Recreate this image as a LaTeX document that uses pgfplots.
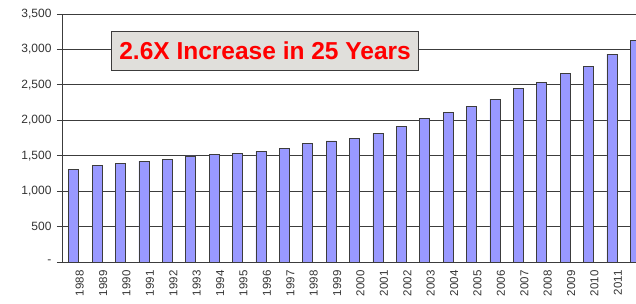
\documentclass[border=0pt]{standalone}
\usepackage{pgfplots}
\pgfplotsset{compat=1.18}
\usepackage{fontspec}
\setmainfont{Liberation Sans}
\definecolor{barfill}{HTML}{9999FF}
\definecolor{gridc}{HTML}{3C3C3C}
\definecolor{labc}{HTML}{333333}
\definecolor{boxfill}{HTML}{E0DFDB}
\begin{document}
\begin{tikzpicture}
\useasboundingbox (-62bp,-42bp) rectangle (574bp,262bp);
\begin{scope}
\clip (-62bp,-42bp) rectangle (574bp,262bp);
\begin{axis}[
  at={(0,0)}, anchor=south west,
  scale only axis, width=585bp, height=248bp,
  xmin=-0.5, xmax=24.5, ymin=0, ymax=3500,
  axis x line*=bottom, axis y line*=left,
  axis line style={gridc, line width=0.9bp, -},
  ytick={0,500,...,3500},
  yticklabels={-,500,{1,000},{1,500},{2,000},{2,500},{3,000},{3,500}},
  ymajorgrids, grid style={gridc, line width=0.9bp},
  xtick={0,...,24},
  xticklabels={1988,1989,1990,1991,1992,1993,1994,1995,1996,1997,1998,1999,2000,2001,2002,2003,2004,2005,2006,2007,2008,2009,2010,2011,2012},
  minor xtick={-0.5,0.5,...,24.5},
  tick align=outside,
  major tick length=5bp, minor tick length=5bp,
  xtick style={draw=none},
  minor tick style={gridc, line width=0.9bp},
  ytick style={gridc, line width=0.9bp},
  x tick label style={rotate=90, anchor=east, font=\fontsize{11.5bp}{13bp}\selectfont, text=labc, yshift=-6bp, xshift=0bp},
  y tick label style={font=\fontsize{12bp}{14bp}\selectfont, text=labc, xshift=-2bp},
  clip=false,
]
\addplot[ybar, bar width=10bp, fill=barfill, draw=gridc, line width=0.6bp] coordinates {
(0,1308) (1,1365) (2,1393) (3,1425) (4,1449) (5,1496) (6,1514) (7,1534) (8,1562) (9,1604)
(10,1675) (11,1708) (12,1745) (13,1816) (14,1919) (15,2023) (16,2107) (17,2192) (18,2300)
(19,2451) (20,2540) (21,2658) (22,2762) (23,2935) (24,3123)
};
\node[fill=boxfill, draw=gridc, line width=0.8bp, minimum width=307bp, minimum height=39bp, inner sep=0pt,
  text=red, font=\bfseries\fontsize{24.5bp}{28bp}\selectfont]
  at (axis cs:8.18,2985) {2.6X Increase in 25 Years};
\end{axis}
\end{scope}
\end{tikzpicture}
\end{document}
